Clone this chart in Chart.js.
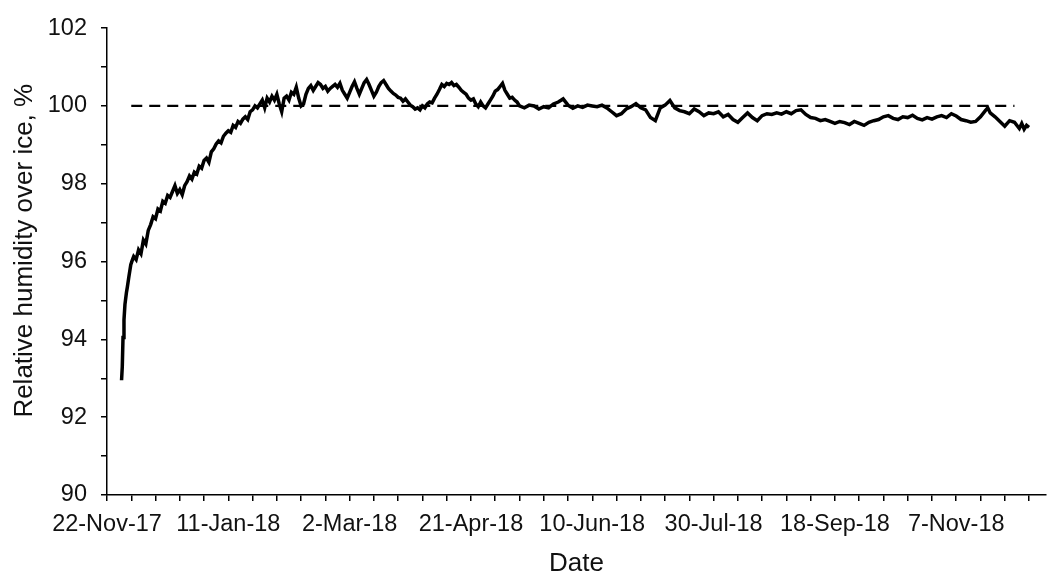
<!DOCTYPE html>
<html>
<head>
<meta charset="utf-8">
<script src="https://cdn.jsdelivr.net/npm/chart.js@4.4.1/dist/chart.umd.min.js"></script>
<style>
  body { margin: 0; background: #fff; }
  canvas { display: block; }
</style>
</head>
<body>
<canvas id="chart" width="1052" height="580"></canvas>
<script>
// days after 22-Nov-17
const days = [
  6, 6.3, 6.6, 7, 7.4, 8, 8.4, 9, 9.8, 10.5,
  11, 12, 13, 14, 15, 16, 17, 18, 19, 20, 21, 22, 23, 24, 25, 26, 27, 28, 29, 30,
  31, 32, 33, 34, 35, 36, 37, 38, 39, 40, 41, 42, 43, 44, 45, 46, 47, 48, 49, 50,
  51, 52, 53, 54, 55, 56, 57, 58, 59, 60, 61, 62, 63, 64, 65, 66, 67, 68, 69, 70,
  71, 72, 73, 74, 75, 76, 77, 78, 79, 80, 81, 82, 83, 84, 85, 86, 87, 88, 89, 90,
  91, 92, 93, 94, 95, 96, 97, 98, 99, 100, 101, 102, 103, 104, 105, 106, 107, 108, 109, 110,
  111, 112, 113, 114, 115, 116, 117, 118, 119, 120, 121, 122, 123, 124, 125, 126, 127, 128, 129, 130,
  131, 132, 133, 134, 135, 136, 137, 138, 139, 140, 141, 142, 143, 144, 145, 146, 147, 148, 149, 150,
  151, 152, 153, 154, 155, 156, 157, 158, 159, 160, 161, 162, 163, 164, 165, 166, 167, 168, 169, 170,
  172, 174, 176, 178, 180, 182, 184, 186, 188, 190, 192, 194, 196, 198, 200,
  202, 204, 206, 208, 210, 212, 214, 216, 218, 220, 222, 224, 226, 228, 230,
  232, 234, 236, 238, 240, 242, 244, 246, 248, 250, 252, 254, 256, 258, 260,
  262, 264, 266, 268, 270, 272, 274, 276, 278, 280, 282, 284, 286, 288, 290,
  292, 294, 296, 298, 300, 302, 304, 306, 308, 310, 312, 314, 316, 318, 320,
  322, 324, 326, 328, 330, 332, 334, 336, 338, 340, 342, 344, 346, 348, 350,
  352, 354, 356, 358, 360, 362, 363, 364, 366, 368, 370, 372, 374, 376, 377, 378, 379, 380
];

// relative humidity over ice, %
const rh = [
  92.95, 93.3, 94.05, 94.5, 94.9, 95.2, 95.35, 95.6, 95.92, 96.05,
  96.13, 96.05, 96.3, 96.2, 96.55, 96.45, 96.8, 96.95, 97.15, 97.1, 97.35, 97.3, 97.55, 97.5, 97.7, 97.65, 97.8, 97.95, 97.75, 97.85,
  97.72, 97.95, 98.05, 98.2, 98.12, 98.3, 98.25, 98.45, 98.4, 98.6, 98.66, 98.55, 98.82, 98.9, 99.02, 99.1, 99.05, 99.22, 99.3, 99.36,
  99.32, 99.5, 99.45, 99.6, 99.55, 99.66, 99.72, 99.65, 99.85, 99.9, 100.0, 99.95, 100.05, 100.15, 99.95, 100.2, 100.1, 100.25, 100.15, 100.3,
  100.05, 99.85, 100.2, 100.25, 100.15, 100.35, 100.3, 100.48, 100.2, 100.0, 100.05, 100.3, 100.45, 100.52, 100.4, 100.5, 100.6, 100.55, 100.45, 100.5,
  100.38, 100.45, 100.5, 100.55, 100.48, 100.58, 100.4, 100.3, 100.2, 100.35, 100.5, 100.62, 100.45, 100.3, 100.45, 100.6, 100.68, 100.55, 100.4, 100.25,
  100.35, 100.5, 100.6, 100.65, 100.55, 100.45, 100.38, 100.32, 100.28, 100.22, 100.2, 100.12, 100.18, 100.1, 100.02, 99.98, 99.92, 99.95, 99.9, 100.0,
  99.95, 100.05, 100.1, 100.08, 100.2, 100.3, 100.42, 100.55, 100.5, 100.58, 100.55, 100.6, 100.52, 100.55, 100.48, 100.4, 100.35, 100.3, 100.2, 100.15,
  100.18, 100.05, 99.98, 100.1, 100.0, 99.95, 100.05, 100.15, 100.25, 100.38, 100.42, 100.5, 100.58, 100.4, 100.3, 100.2, 100.22, 100.15, 100.1, 100.0,
  99.95, 100.02, 100.0, 99.92, 99.98, 99.95, 100.05, 100.1, 100.18, 100.02, 99.94, 100.0, 99.96, 100.02, 100.0,
  99.98, 100.02, 99.95, 99.85, 99.75, 99.8, 99.92, 99.98, 100.06, 99.95, 99.9, 99.7, 99.62, 99.95, 100.02,
  100.14, 99.95, 99.88, 99.85, 99.8, 99.92, 99.85, 99.75, 99.82, 99.8, 99.85, 99.72, 99.78, 99.65, 99.58,
  99.7, 99.82, 99.7, 99.62, 99.75, 99.8, 99.78, 99.82, 99.79, 99.85, 99.8, 99.88, 99.9, 99.78, 99.7,
  99.68, 99.62, 99.65, 99.6, 99.55, 99.6, 99.57, 99.52, 99.6, 99.55, 99.5, 99.58, 99.62, 99.65, 99.72,
  99.75, 99.68, 99.65, 99.72, 99.7, 99.76, 99.68, 99.64, 99.7, 99.66, 99.72, 99.75, 99.7, 99.8, 99.74,
  99.65, 99.62, 99.58, 99.6, 99.72, 99.88, 99.95, 99.82, 99.72, 99.6, 99.48, 99.62, 99.58, 99.42, 99.55, 99.4, 99.5, 99.45
];

// dashed 100 % reference line
const refDays = [10, 374];
const refRh = [100, 100];

const yTicks = [90, 92, 94, 96, 98, 100, 102];
const xLabelDays = [0, 50, 100, 150, 200, 250, 300, 350];

const startDate = Date.UTC(2017, 10, 22);
const months = ['Jan', 'Feb', 'Mar', 'Apr', 'May', 'Jun', 'Jul', 'Aug', 'Sep', 'Oct', 'Nov', 'Dec'];

function dayLabel(d) {
    const dt = new Date(startDate + d * 86400000);
    return dt.getUTCDate() + '-' + months[dt.getUTCMonth()] + '-' + String(dt.getUTCFullYear()).slice(2);
}

const tickFont = { family: "'Liberation Sans', Arial, sans-serif", size: 23.5 };
const titleFont = { family: "'Liberation Sans', Arial, sans-serif", size: 26 };
const ink = '#111';

const chart = document.querySelector('#chart').getContext('2d');

new Chart(chart, {
    type: 'line',
    data: {
        datasets: [
            {
                data: days.map((d, i) => ({ x: d, y: rh[i] })),
                borderColor: '#000',
                borderWidth: 3.5,
                pointRadius: 0,
                tension: 0
            },
            {
                data: refDays.map((d, i) => ({ x: d, y: refRh[i] })),
                borderColor: '#000',
                borderWidth: 2.2,
                borderDash: [11, 7],
                pointRadius: 0
            }
        ]
    },
    options: {
        responsive: false,
        animation: false,
        layout: { padding: { top: 25, right: 6, left: 0, bottom: 0 } },
        plugins: { legend: { display: false }, tooltip: { enabled: false } },
        scales: {
            x: {
                type: 'linear',
                min: 0,
                max: 387,
                afterFit: (s) => { s.height = 85; },
                afterBuildTicks: (s) => {
                    const t = [];
                    for (let v = 0; v <= 380; v += 10) t.push({ value: v });
                    s.ticks = t;
                },
                ticks: {
                    autoSkip: false,
                    maxRotation: 0,
                    padding: 9,
                    color: ink,
                    font: tickFont,
                    callback: (v) => xLabelDays.includes(v) ? dayLabel(v) : ''
                },
                grid: { drawOnChartArea: false, drawTicks: true, tickLength: 6, color: '#000', lineWidth: 1.5 },
                border: { color: '#000', width: 1.5 },
                title: { display: true, text: 'Date', color: ink, font: titleFont, padding: { top: 0, bottom: 1 } }
            },
            y: {
                min: 90,
                max: 102,
                afterFit: (s) => { s.width = 107; },
                afterBuildTicks: (s) => {
                    const t = [];
                    for (let v = 90; v <= 102; v += 1) t.push({ value: v });
                    s.ticks = t;
                },
                ticks: {
                    autoSkip: false,
                    padding: 14,
                    color: ink,
                    font: tickFont,
                    callback: (v) => yTicks.includes(v) ? String(v) : ''
                },
                grid: { drawOnChartArea: false, drawTicks: true, tickLength: 6, color: '#000', lineWidth: 1.5 },
                border: { color: '#000', width: 1.5 },
                title: { display: true, text: '\u00a0\u00a0\u00a0Relative humidity over ice, %', color: ink, font: titleFont, padding: { top: 9, bottom: 0 } }
            }
        }
    }
})
</script>
</body>
</html>
